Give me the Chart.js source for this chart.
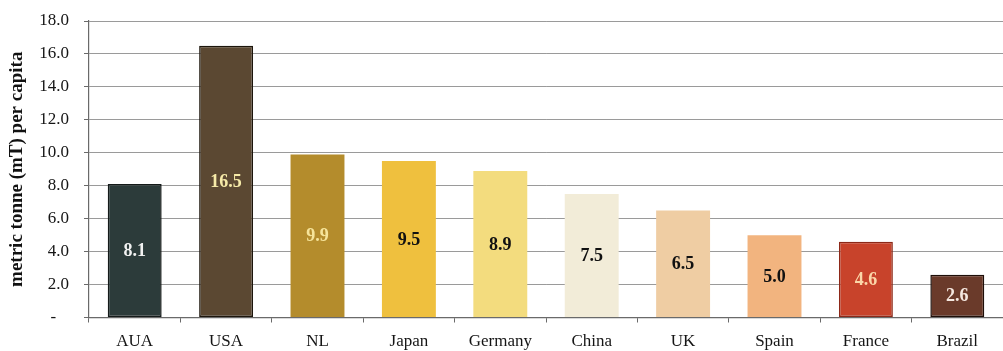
<!DOCTYPE html>
<html>
<head>
<meta charset="utf-8">
<script src="https://cdn.jsdelivr.net/npm/chart.js@4/dist/chart.umd.min.js"></script>
<style>
  html, body { margin: 0; padding: 0; background: #ffffff; }
  #wrap { width: 1003px; height: 351px; }
</style>
</head>
<body>
<div id="wrap"><canvas id="c" width="1003" height="351"></canvas></div>
<script>
// Per-capita consumption by country, metric tonnes
const countries = ['AUA', 'USA', 'NL', 'Japan', 'Germany', 'China', 'UK', 'Spain', 'France', 'Brazil'];
const perCapita = [8.1, 16.5, 9.9, 9.5, 8.9, 7.5, 6.5, 5.0, 4.6, 2.6];
const yTicks = [0, 2, 4, 6, 8, 10, 12, 14, 16, 18];

// Bar palette, outlines and value-label colours
const fillColors = ['#2c3b3a', '#5b4832', '#b48c2c', '#efc03e', '#f3dc7e', '#f2ecd8', '#efcda3', '#f2b47f', '#c8432b', '#6a3a2a'];
const edgeColors = ['#141a19', '#1c150c', '#b48c2c', '#efc03e', '#f3dc7e', '#f2ecd8', '#efcda3', '#f2b47f', '#8c2818', '#1e0e08'];
const edgeWidths = [1.5, 1.5, 0, 0, 0, 0, 0, 0, 1.5, 1.5];
const labelColors = ['#f2f2f2', '#f6eaa8', '#f6e49a', '#111111', '#111111', '#111111', '#111111', '#111111', '#fbd6a8', '#f5e8e0'];

const SERIF = '"Liberation Serif", "DejaVu Serif", serif';

// Writes each value in the middle of its bar
const valueLabels = {
  id: 'valueLabels',
  afterDatasetsDraw(chart) {
    const ctx = chart.ctx;
    const meta = chart.getDatasetMeta(0);
    ctx.save();
    ctx.font = 'bold 18px ' + SERIF;
    ctx.textAlign = 'center';
    ctx.textBaseline = 'middle';
    meta.data.forEach((bar, i) => {
      const v = chart.data.datasets[0].data[i];
      ctx.fillStyle = labelColors[i];
      ctx.fillText(v.toFixed(1), bar.x, (bar.y + bar.base) / 2 + 1);
    });
    ctx.restore();
  }
};

new Chart(document.getElementById('c'), {
  type: 'bar',
  data: {
    labels: countries,
    datasets: [{
      data: perCapita,
      backgroundColor: fillColors,
      borderColor: edgeColors,
      borderWidth: edgeWidths,
      borderSkipped: false,
      barPercentage: 0.59,
      categoryPercentage: 1.0
    }]
  },
  options: {
    responsive: false,
    animation: false,
    devicePixelRatio: 1,
    layout: { padding: { top: 21, right: 0, left: 0, bottom: 0 } },
    plugins: {
      legend: { display: false },
      tooltip: { enabled: false }
    },
    scales: {
      x: {
        offset: true,
        afterFit(scale) { scale.height = 33.5; },
        border: { display: true, color: '#6a6a6a', width: 1.2 },
        grid: {
          offset: true,
          drawOnChartArea: false,
          drawTicks: true,
          tickLength: 5,
          color: '#6a6a6a'
        },
        ticks: {
          color: '#151515',
          padding: 9,
          font: { family: SERIF, size: 17 }
        }
      },
      y: {
        min: 0,
        max: 18,
        afterFit(scale) {
          scale.width = 89;
          scale.paddingTop = 0;
          scale.paddingBottom = 0;
        },
        afterBuildTicks(scale) { scale.ticks = yTicks.map(v => ({ value: v })); },
        border: { display: true, color: '#6a6a6a', width: 1.2 },
        grid: {
          color: '#9a9a9a',
          lineWidth: 1,
          drawTicks: true,
          tickLength: 5,
          tickColor: '#6a6a6a'
        },
        ticks: {
          color: '#151515',
          padding: 15,
          font: { family: SERIF, size: 17 },
          callback: (v) => (v === 0 ? '-\u2002 ' : Number(v).toFixed(1))
        },
        title: {
          display: true,
          text: 'metric tonne (mT) per capita',
          color: '#111111',
          padding: { top: 6, bottom: 0 },
          font: { family: SERIF, size: 19, weight: 'bold' }
        }
      }
    }
  },
  plugins: [valueLabels]
});
</script>
</body>
</html>
